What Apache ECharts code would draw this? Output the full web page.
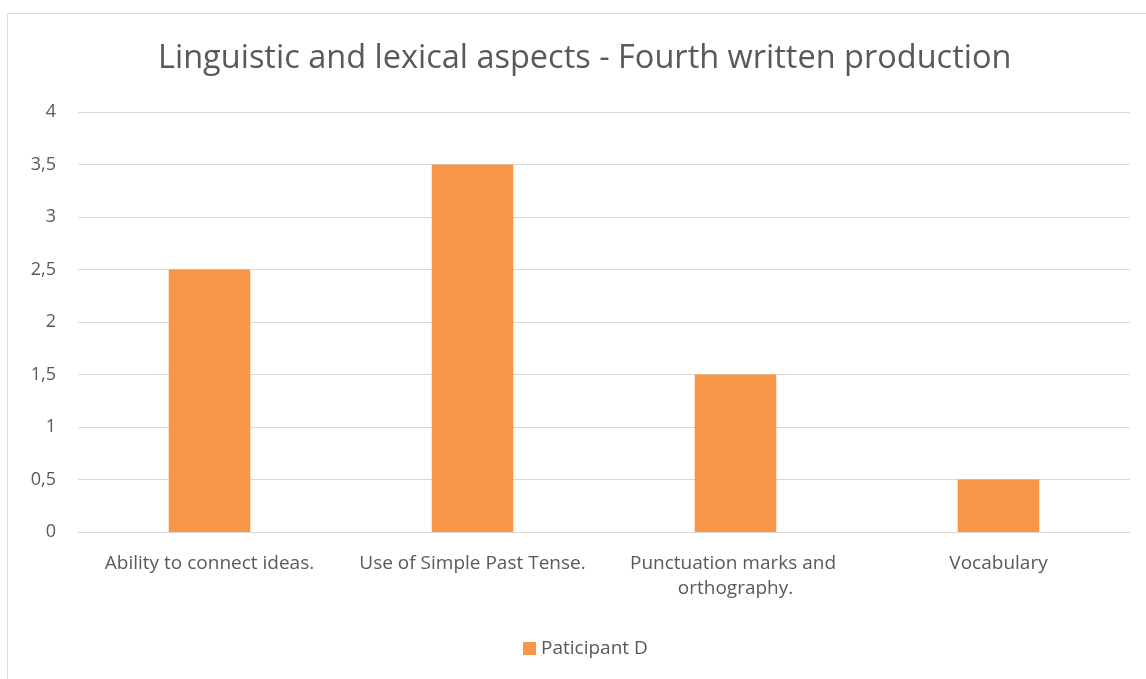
<!DOCTYPE html>
<html>
<head>
<meta charset="utf-8">
<script src="https://cdn.jsdelivr.net/npm/echarts@6/dist/echarts.min.js"></script>
<style>
  html, body { margin: 0; padding: 0; background: #fff; }
  #chart { width: 1146px; height: 679px; }
</style>
</head>
<body>
<div id="chart"></div>
<script>
// Scores per writing aspect
const categories = [
  'Ability to connect ideas.',
  'Use of Simple Past Tense.',
  'Punctuation marks and orthography.',
  'Vocabulary'
];
const seriesName = 'Paticipant D';
const scores = [2.5, 3.5, 1.5, 0.5];
const yTicks = { min: 0, max: 4, interval: 0.5 };

const FONT = '"Open Sans", "Noto Sans", sans-serif';
const TEXT = '#595959';

const chart = echarts.init(document.getElementById('chart'), null, { renderer: 'canvas' });
chart.setOption({
  animation: false,
  textStyle: { fontFamily: FONT },
  graphic: [{
    type: 'rect',
    shape: { x: 7.5, y: 13.5, width: 1300, height: 800 },
    style: { fill: 'none', stroke: '#d9d9d9', lineWidth: 1 },
    silent: true,
    z: -10
  }],
  title: {
    text: 'Linguistic and lexical aspects - Fourth written production',
    left: 153,
    top: 37,
    textStyle: { fontFamily: FONT, fontSize: 32.5, fontWeight: 'normal', color: TEXT }
  },
  legend: {
    data: [seriesName],
    bottom: 16,
    left: 518,
    icon: 'rect',
    itemWidth: 13,
    itemHeight: 13,
    itemGap: 6,
    textStyle: { fontFamily: FONT, fontSize: 19, color: TEXT }
  },
  grid: { left: 78, right: 16, top: 112, bottom: 147, containLabel: false },
  xAxis: {
    type: 'category',
    data: categories,
    axisLine: { lineStyle: { color: '#d9d9d9', width: 1 } },
    axisTick: { show: false },
    axisLabel: {
      interval: 0,
      margin: 19,
      fontFamily: FONT,
      fontSize: 19,
      color: TEXT,
      width: 250,
      overflow: 'break',
      lineHeight: 25
    }
  },
  yAxis: {
    type: 'value',
    min: yTicks.min,
    max: yTicks.max,
    interval: yTicks.interval,
    axisLine: { show: false },
    axisTick: { show: false },
    splitLine: { lineStyle: { color: '#d9d9d9', width: 1 } },
    axisLabel: {
      margin: 22,
      fontFamily: FONT,
      fontSize: 18,
      color: TEXT,
      formatter: v => String(v).replace('.', ',')
    }
  },
  series: [{
    name: seriesName,
    type: 'bar',
    data: scores,
    barWidth: '31%',
    itemStyle: { color: '#f79646' }
  }]
});
</script>
</body>
</html>
